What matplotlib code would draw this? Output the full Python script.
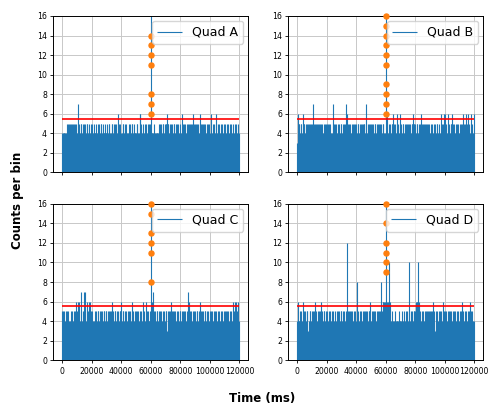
import numpy as np
import matplotlib
matplotlib.use("Agg")
import matplotlib.pyplot as plt

# counts per 500 ms bin, one char per bin (base 36: a=10, c=12, z=35)
# each row = 40 bins = 20000 ms
quad_a = [
    "4444445455" "5455455455" "4575455455" "4545545445",
    "4545445454" "5455454454" "4545544554" "5455456545",
    "4455454544" "5454554544" "4554466544" "5454545545",
    "z444454444" "4545545545" "5565545545" "4554545545",
    "3464554545" "5455455654" "5545545655" "4554545545",
    "4464545456" "4545453545" "4545454545" "4534545454",
]
quad_b = [
    "3655455465" "5455455455" "5745545545" "5545545455",
    "5455454475" "5455454545" "5455457565" "4554545545",
    "5455455455" "5545745545" "5455455454" "5545545544",
    "z464545455" "6545456545" "6545545545" "5455455655",
    "5455455465" "5455455455" "4545453545" "5454365456",
    "5654655455" "6545455454" "5455465456" "5465456546",
]
quad_c = [
    "5554455454" "4354545456" "5656475455" "7745656465",
    "4544545455" "4554545545" "5455455565" "4554545455",
    "6455454545" "4554565454" "5455454545" "6543655445",
    "z647545455" "4545545454" "5535455645" "5455454545",
    "5455454545" "7565454545" "5455454655" "4545545454",
    "5455454545" "4545453545" "5455454545" "4565656564",
]
quad_d = [
    "4644545465" "4545534554" "5455645454" "5546545545",
    "4545454545" "4354545545" "5454545c45" "5455454545",
    "4845454545" "5455454556" "4545545454" "5545856666",
    "z6666a6445" "4445444454" "4454354545" "45a4545455",
    "5666a64545" "4545545545" "5455654354" "5455454565",
    "5454545545" "4545545454" "5455654545" "4545654544",
]

# flagged bins (above threshold) near the burst
burst_t = 60000
flag_a = [6, 7, 8, 11, 12, 13, 14]
flag_b = [6, 7, 8, 9, 11, 12, 13, 14, 15, 16]
flag_c = [8, 11, 12, 13, 15, 16]
flag_d = [9, 10, 11, 12, 14, 16]

threshold = 5.5
bin_ms = 500
names = ["Quad A", "Quad B", "Quad C", "Quad D"]
quads = [quad_a, quad_b, quad_c, quad_d]
flags = [flag_a, flag_b, flag_c, flag_d]

fig, axes = plt.subplots(2, 2, figsize=(4.89, 4.05), dpi=100, sharex=True)
fig.subplots_adjust(left=0.109, right=0.988, top=0.9605, bottom=0.1104,
                    wspace=0.205, hspace=0.2)

for ax, name, rows, fl in zip(axes.flat, names, quads, flags):
    counts = np.array([int(c, 36) for c in "".join(rows)])
    t = np.arange(len(counts)) * bin_ms
    ax.vlines(t, 0, counts, color="tab:blue", lw=0.8, label=name)
    ax.hlines(threshold, 0, t[-1] + bin_ms, color="red", lw=1.2, zorder=3)
    ax.plot([burst_t] * len(fl), fl, "o", color="tab:orange", ms=3.6,
            ls="none", zorder=4, clip_on=False)
    ax.set_ylim(0, 16)
    ax.set_yticks(range(0, 17, 2))
    ax.set_xticks(range(0, 120001, 20000))
    ax.grid(True, color="#c8c8c8", lw=0.7)
    ax.tick_params(labelsize=5.6, length=2.5, width=0.6, pad=2)
    for s in ax.spines.values():
        s.set_linewidth(0.7)
    ax.legend(loc="upper right", fontsize=9, handlelength=2.0,
              borderpad=0.4, borderaxespad=0.4)

fig.text(0.035, 0.505, "Counts per bin", rotation=90, ha="center",
         va="center", fontsize=8.5, fontweight="bold")
fig.text(0.536, 0.016, "Time (ms)", ha="center", va="center",
         fontsize=8.5, fontweight="bold")

plt.savefig("out.png", dpi=100)
